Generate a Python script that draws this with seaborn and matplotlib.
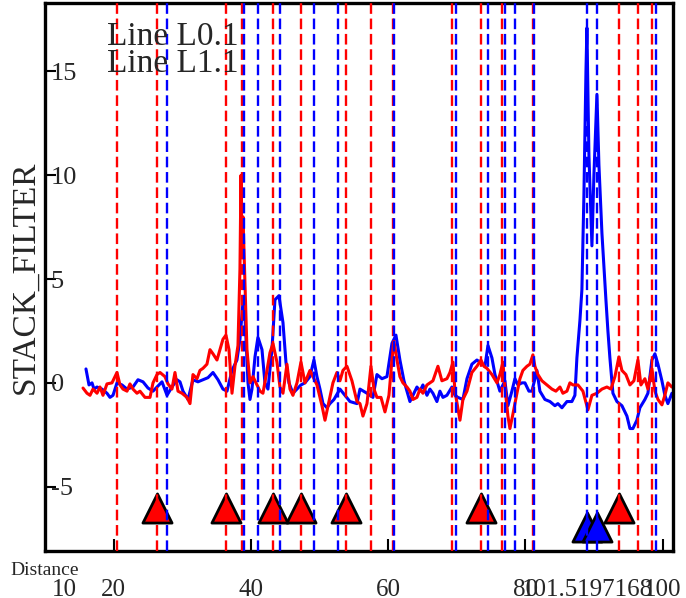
import matplotlib
matplotlib.use("Agg")
import matplotlib.pyplot as plt
import seaborn as sns

# trace L0.1 (blue)
dist_l0 = [15.97, 16.41, 16.85, 17.14, 17.58, 18.30, 19.03, 19.47, 19.91, 20.49,
           21.22, 21.95, 22.82, 23.55, 24.28, 25.01, 25.74, 26.32, 27.05, 27.78,
           28.50, 29.23, 29.67, 30.11, 30.84, 31.56, 32.29, 33.02, 33.75, 34.48,
           35.21, 35.93, 36.52, 37.25, 37.97, 38.41, 38.85, 39.14, 39.58, 39.87,
           40.16, 40.60, 41.03, 41.62, 42.05, 42.49, 43.07, 43.51, 44.09, 44.68,
           45.11, 45.55, 46.13, 46.72, 47.30, 47.88, 48.61, 49.19, 49.63, 50.07,
           50.51, 51.09, 51.52, 52.11, 52.98, 53.71, 54.44, 55.46, 55.90, 56.92,
           57.79, 58.37, 59.10, 59.83, 60.56, 61.14, 61.72, 62.31, 62.74, 63.18,
           63.62, 64.20, 64.64, 65.07, 65.66, 66.09, 66.53, 67.11, 67.55, 67.99,
           68.57, 69.30, 69.74, 70.17, 70.90, 71.49, 72.21, 72.94, 73.38, 74.11,
           74.55, 75.13, 75.57, 76.29, 77.02, 77.46, 78.04, 78.48, 78.92, 79.50,
           79.94, 80.52, 80.96, 81.68, 82.12, 82.85, 83.58, 84.31, 84.74, 85.33,
           86.06, 86.78, 87.22, 87.51, 87.95, 88.24, 88.53, 88.83, 88.97, 89.26,
           89.70, 89.99, 90.43, 90.72, 91.16, 91.74, 92.03, 92.32, 92.76, 93.34,
           94.07, 94.80, 95.24, 95.67, 96.25, 96.69, 97.42, 97.86, 98.44, 98.88,
           99.32, 99.90, 100.33, 100.77, 101.36]
filt_l0 = [0.67, -0.1, 0.0, -0.3, -0.2, -0.3, -0.5, -0.7, -0.6, 0.0,
           -0.1, -0.3, -0.2, 0.15, 0.05, -0.25, -0.4, -0.2, 0.05, -0.6,
           -0.2, 0.15, 0.05, -0.4, -0.8, 0.15, 0.05, 0.15, 0.25, 0.5,
           0.15, -0.3, -0.4, 0.6, 1.1, 2.1, 3.9, 3.2, 0.0, -0.8,
           -0.3, 1.25, 2.2, 1.6, 0.0, -0.3, 1.6, 4.0, 4.2, 2.9,
           1.0, 0.0, -0.5, -0.3, -0.1, 0.0, 0.3, 1.1, 0.3, -0.3,
           -1.0, -1.2, -1.0, -0.8, -0.3, -0.6, -0.9, -1.0, -0.3, -0.5,
           -0.7, 0.4, 0.2, 0.3, 1.9, 2.3, 1.1, 0.1, -0.4, -0.9,
           -0.6, -0.2, -0.4, -0.1, -0.6, -0.3, -0.5, -0.9, -0.4, -0.7,
           -0.6, -0.2, -0.6, -0.7, -0.8, 0.2, 0.9, 1.1, 1.0, 0.8,
           1.8, 1.2, 0.4, -0.4, 0.1, -1.1, -0.4, 0.2, -0.1, 0.0,
           0.0, -0.4, -0.4, 0.6, -0.4, -0.8, -0.9, -1.1, -1.0, -1.2,
           -0.9, -0.9, -0.6, 1.2, 3.0, 4.5, 9.0, 15.0, 17.1, 11.0,
           6.6, 10.0, 13.9, 10.5, 7.2, 4.0, 2.5, 1.2, -0.5, -0.9,
           -1.1, -1.6, -2.2, -2.2, -1.8, -1.2, -0.8, -0.5, 1.1, 1.4,
           0.9, 0.1, -0.6, -1.0, -0.5]

# trace L1.1 (red)
dist_l1 = [15.54, 16.12, 16.56, 16.99, 17.58, 18.01, 18.45, 19.03, 19.76, 20.49,
           20.93, 21.36, 21.95, 22.38, 22.82, 23.40, 23.84, 24.57, 25.30, 25.74,
           26.32, 26.76, 27.48, 27.92, 28.50, 28.94, 29.38, 29.96, 30.69, 31.13,
           31.56, 32.15, 32.58, 33.02, 33.60, 34.04, 34.48, 35.06, 35.50, 35.93,
           36.37, 36.81, 37.25, 37.68, 38.12, 38.41, 38.56, 38.70, 38.85, 39.14,
           39.43, 39.87, 40.31, 40.89, 41.33, 41.76, 42.35, 42.78, 43.22, 43.80,
           44.24, 44.68, 45.26, 45.70, 46.13, 46.72, 47.30, 47.88, 48.61, 49.05,
           49.63, 50.36, 50.80, 51.38, 51.96, 52.54, 52.98, 53.42, 54.00, 54.73,
           55.46, 55.90, 56.33, 56.92, 57.50, 57.94, 58.37, 58.96, 59.54, 60.12,
           60.56, 60.85, 61.29, 61.72, 62.16, 62.74, 63.18, 63.62, 64.20, 64.64,
           65.07, 65.66, 66.09, 66.53, 67.26, 67.84, 68.57, 69.01, 69.45, 69.74,
           70.47, 70.90, 71.49, 72.21, 72.94, 73.53, 73.96, 74.40, 75.13, 75.86,
           76.29, 76.73, 77.02, 77.46, 77.75, 78.19, 78.77, 79.21, 79.64, 80.23,
           80.66, 81.10, 81.39, 81.83, 82.41, 83.14, 83.87, 84.45, 85.04, 85.47,
           86.06, 86.49, 86.93, 87.66, 88.39, 89.12, 89.70, 90.43, 91.16, 91.88,
           92.47, 93.05, 93.63, 94.07, 94.65, 95.24, 95.82, 96.40, 96.84, 97.42,
           97.86, 98.44, 98.88, 99.32, 99.90, 100.33, 100.77, 101.35]
filt_l1 = [-0.25, -0.5, -0.6, -0.3, -0.5, -0.2, -0.6, -0.05, 0.0, 0.5,
           -0.1, -0.3, -0.4, -0.05, -0.3, -0.5, -0.4, -0.7, -0.7, 0.0,
           0.4, 0.5, 0.3, -0.05, -0.3, 0.5, -0.4, -0.5, -0.7, -1.0,
           0.4, 0.2, 0.6, 0.7, 0.9, 1.6, 1.4, 1.1, 1.6, 2.1,
           2.3, 1.6, -0.5, 0.8, 1.8, 5.5, 10.0, 6.5, 8.0, 4.8,
           1.6, 0.0, 0.3, -0.1, -0.4, -0.5, 0.6, 1.45, 1.9, 1.0,
           -0.2, -0.5, 0.9, -0.3, -0.6, 0.0, 1.0, 0.0, 0.6, 0.3,
           -0.1, -1.1, -1.8, -0.9, 0.0, 0.5, 0.1, 0.6, 0.8, 0.1,
           -0.9, -1.0, -1.6, -1.0, 0.8, -0.3, -0.7, -0.7, -1.4, -0.6,
           1.1, 2.0, 1.1, 0.3, 0.0, -0.2, -0.4, -0.8, -0.7, -0.3,
           -0.5, -0.1, 0.0, 0.1, 0.8, 0.1, 0.2, 0.5, 1.0, -0.4,
           -1.8, -0.8, -0.4, 0.5, 0.8, 1.1, 0.8, 0.7, 0.4, 0.0,
           0.4, 1.0, -0.2, -1.6, -2.2, -1.5, -0.5, 0.2, 0.6, 0.8,
           0.9, 1.35, 0.8, 0.4, 0.1, -0.1, -0.3, -0.4, -0.2, -0.5,
           -0.4, 0.0, -0.1, -0.1, -0.4, -1.3, -0.6, -0.5, -0.3, -0.2,
           -0.3, 0.3, 1.25, 0.6, 0.4, -0.1, 0.1, 1.1, -0.1, 0.2,
           -0.3, 0.7, -0.4, -0.8, -1.06, -0.6, 0.0, -0.2]

# event positions (dashed lines)
events_l0 = [27.78, 39.0, 41.04, 44.25, 49.2, 52.7, 60.86, 69.9, 74.56,
             77.04, 78.49, 81.26, 88.99, 90.44, 99.04]
events_l1 = [20.49, 26.32, 36.38, 38.71, 43.23, 47.31, 53.86, 57.51, 60.71,
             69.31, 73.54, 76.60, 81.12, 93.65, 96.42, 98.46]

# picked events (triangles)
picks_l0 = [88.99, 90.44]
picks_l1 = [26.32, 36.38, 43.23, 47.31, 53.86, 73.54, 93.65]
pick_level_l0 = -6.95
pick_level_l1 = -6.05

x_limits = (10, 101.5197168)
y_limits = (-8.1, 18.3)
x_ticks = [20, 40, 60, 80, 100]
y_ticks = [-5, 0, 5, 10, 15]
# the axis end values are printed as extra labels
end_label_pos = [12.77, 89.04]
end_labels = ["10", "101.5197168"]

sns.set_style("white")
plt.rcParams["font.family"] = ["Liberation Serif", "DejaVu Serif"]
plt.rcParams["axes.unicode_minus"] = False

fig = plt.figure(figsize=(6.86, 5.98), dpi=100)
ax = fig.add_axes([0.0656, 0.0786, 0.9155, 0.9164])

dash = (0, (4.5, 2))
for xv in events_l1:
    ax.axvline(xv, color="red", lw=1.7, ls=dash, zorder=3)
for xv in events_l0:
    ax.axvline(xv, color="blue", lw=1.7, ls=dash, zorder=3)

sns.lineplot(x=dist_l0, y=filt_l0, color="blue", lw=2.2, ax=ax, zorder=2)
sns.lineplot(x=dist_l1, y=filt_l1, color="red", lw=2.2, ax=ax, zorder=2)

sns.scatterplot(x=picks_l1, y=[pick_level_l1] * len(picks_l1), marker="^",
                s=440, color="red", edgecolor="black", linewidth=2, ax=ax, zorder=2.5)
sns.scatterplot(x=picks_l0, y=[pick_level_l0] * len(picks_l0), marker="^",
                s=440, color="blue", edgecolor="black", linewidth=2, ax=ax, zorder=2.5)

ax.set_xlim(*x_limits)
ax.set_ylim(*y_limits)

ax.set_xticks(x_ticks)
ax.set_xticks(end_label_pos, labels=end_labels, minor=True)
ax.set_yticks(y_ticks)

ax.tick_params(axis="x", which="major", bottom=True, direction="in", length=9,
               width=1.5, color="black", labelsize=18, pad=20)
ax.tick_params(axis="x", which="minor", bottom=True, length=0, labelsize=18, pad=20)
ax.tick_params(axis="y", left=True, direction="in", length=8, width=1.5,
               color="black", labelsize=19, pad=-4)
plt.setp(ax.get_yticklabels(), ha="left")

for side in ["left", "right", "top", "bottom"]:
    ax.spines[side].set_color("black")
    ax.spines[side].set_linewidth(2.4)

ax.set_ylabel("STACK_FILTER", fontsize=24)
ax.yaxis.set_label_coords(-0.032, 0.5)
ax.yaxis.label.set_va("center")

ax.set_xlabel("Distance", fontsize=14)
ax.xaxis.set_label_coords(-0.0557, -0.0438)
ax.xaxis.label.set_ha("left")
ax.xaxis.label.set_va("baseline")

ax.text(0.0987, 0.923, "Line L0.1", transform=ax.transAxes, fontsize=24,
        va="baseline", ha="left", zorder=5)
ax.text(0.0987, 0.874, "Line L1.1", transform=ax.transAxes, fontsize=24,
        va="baseline", ha="left", zorder=5)

fig.savefig("out.png", dpi=100)
